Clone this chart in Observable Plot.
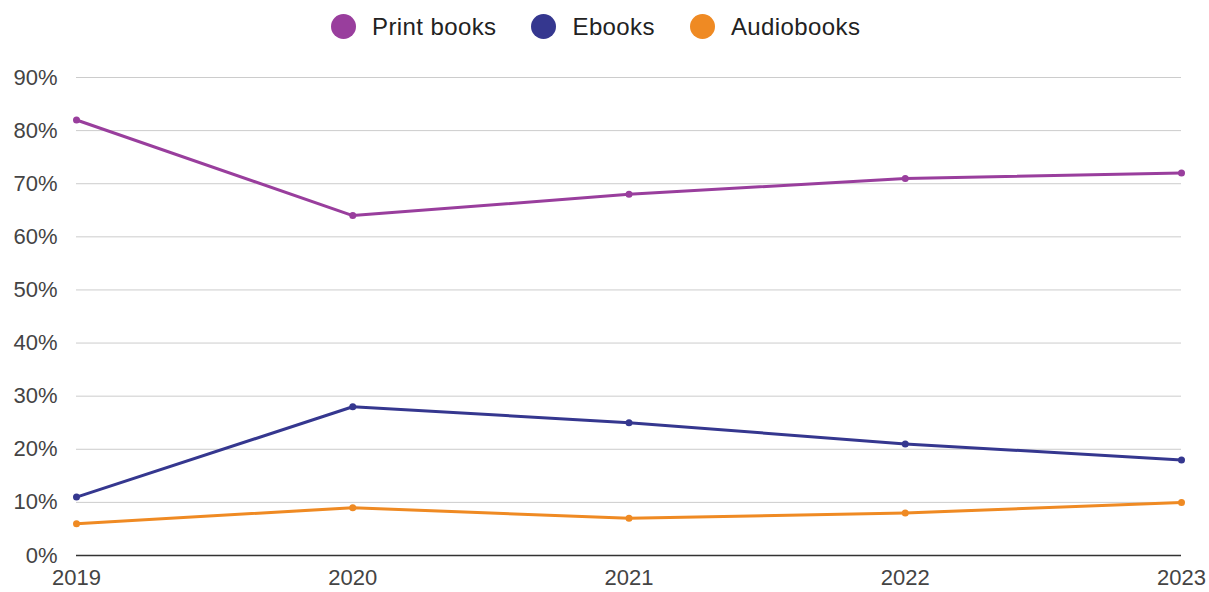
<!DOCTYPE html>
<html>
<head>
<meta charset="utf-8">
<script src="https://cdn.jsdelivr.net/npm/d3@7"></script>
<script src="https://cdn.jsdelivr.net/npm/@observablehq/plot@0.6"></script>
<style>
  html, body { margin: 0; padding: 0; background: #fff; }
  body { width: 1209px; height: 592px; overflow: hidden; font-family: "Liberation Sans", Arial, sans-serif; position: relative; }
  #legend { position: absolute; left: 331px; top: 14px; height: 25px; display: flex; align-items: center; }
  .item { display: flex; align-items: center; font-size: 24px; letter-spacing: 0.4px; color: #222; margin-right: 35px; }
  .sw { width: 25px; height: 25px; border-radius: 50%; margin-right: 16px; }
  #chart svg { display: block; }
</style>
</head>
<body>
<div id="chart"></div>
<div id="legend"></div>
<script>
const years = [2019, 2020, 2021, 2022, 2023];
const seriesNames = ["Print books", "Ebooks", "Audiobooks"];
const printBooks = [82, 64, 68, 71, 72];
const ebooks = [11, 28, 25, 21, 18];
const audiobooks = [6, 9, 7, 8, 10];
const colors = ["#993e9d", "#35378f", "#ef8a23"];
const yTicks = [0, 10, 20, 30, 40, 50, 60, 70, 80, 90];

const seriesValues = [printBooks, ebooks, audiobooks];
const data = [];
seriesNames.forEach((name, i) => {
  years.forEach((yr, j) => data.push({series: name, year: yr, value: seriesValues[i][j]}));
});

const legend = document.getElementById("legend");
seriesNames.forEach((name, i) => {
  const it = document.createElement("div");
  it.className = "item";
  const sw = document.createElement("span");
  sw.className = "sw";
  sw.style.background = colors[i];
  const tx = document.createElement("span");
  tx.textContent = name;
  it.appendChild(sw); it.appendChild(tx);
  legend.appendChild(it);
});

const chart = Plot.plot({
  width: 1209,
  height: 592,
  marginLeft: 76,
  marginRight: 28,
  marginTop: 77,
  marginBottom: 37,
  style: {fontFamily: "Liberation Sans, Arial, sans-serif", fontSize: "22px", color: "#444", background: "#fff"},
  x: {type: "linear", domain: [2019, 2023], ticks: years, tickFormat: d => String(d), tickSize: 0, label: null},
  y: {domain: [0, 90], ticks: yTicks, tickFormat: d => d + "%", tickSize: 0, label: null},
  color: {domain: seriesNames, range: colors},
  marks: [
    Plot.gridY(yTicks.filter(d => d > 0), {stroke: "#cccccc", strokeOpacity: 1, strokeWidth: 1}),
    Plot.ruleY([0], {stroke: "#333", strokeWidth: 1.5}),
    Plot.axisX({ticks: years, tickFormat: d => String(d), tickSize: 0, tickPadding: 14, fill: "#444", fontSize: 22}),
    Plot.axisY({ticks: yTicks, tickFormat: d => d + "%", tickSize: 0, tickPadding: 19, fill: "#444", fontSize: 22}),
    Plot.line(data, {x: "year", y: "value", stroke: "series", z: "series", strokeWidth: 3}),
    Plot.dot(data, {x: "year", y: "value", fill: "series", r: 3.5})
  ]
});
document.getElementById("chart").appendChild(chart);
</script>
</body>
</html>
